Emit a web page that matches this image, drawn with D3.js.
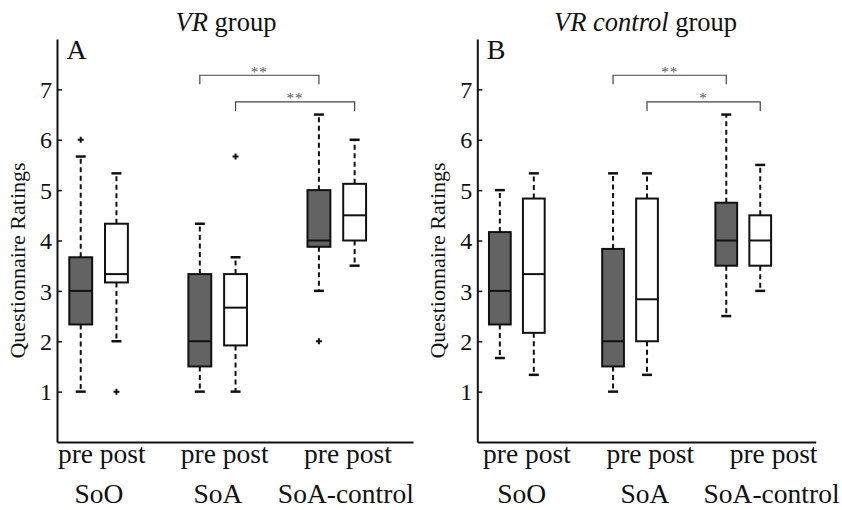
<!DOCTYPE html>
<html><head><meta charset="utf-8">
<script src="https://cdn.jsdelivr.net/npm/d3@7"></script>
<style>
body{margin:0;background:#fff}
svg{display:block}
svg text{font-family:"Liberation Serif","Tinos","DejaVu Serif","Noto Serif",serif !important;fill:#111}
</style>
</head><body>
<svg id="c" width="842" height="510"></svg>
<script>
// ---------- data ----------
const categories = ["SoO", "SoA", "SoA-control"];
const sessions = ["pre", "post"];
const yTicks = [1, 2, 3, 4, 5, 6, 7];
// box order: SoO pre, SoO post, SoA pre, SoA post, SoA-control pre, SoA-control post
// VR group (A)
const vrLower  = [1.000, 2.000, 1.000, 1.000, 3.000, 3.500];
const vrQ1     = [2.333, 3.167, 1.500, 1.917, 3.875, 4.000];
const vrMedian = [3.000, 3.333, 2.000, 2.667, 4.000, 4.500];
const vrQ3     = [3.667, 4.333, 3.333, 3.333, 5.000, 5.125];
const vrUpper  = [5.667, 5.333, 4.333, 3.667, 6.500, 6.000];
const vrOutliers = [[6.0], [1.0], [], [5.667], [2.0], []];
const vrSig = [{from: 2, to: 4, label: "**", level: 7.28}, {from: 3, to: 5, label: "**", level: 6.75}];
// VR control group (B)
const ctlLower  = [1.667, 1.333, 1.000, 1.333, 2.500, 3.000];
const ctlQ1     = [2.333, 2.167, 1.500, 2.000, 3.500, 3.500];
const ctlMedian = [3.000, 3.333, 2.000, 2.833, 4.000, 4.000];
const ctlQ3     = [4.167, 4.833, 3.833, 4.833, 4.750, 4.500];
const ctlUpper  = [5.000, 5.333, 5.333, 5.333, 6.500, 5.500];
const ctlOutliers = [[], [], [], [], [], []];
const ctlSig = [{from: 2, to: 4, label: "**", level: 7.28}, {from: 3, to: 5, label: "*", level: 6.75}];

// ---------- layout ----------
const svg = d3.select("#c");
const panels = [
  {left: 57, right: 413, letter: "A", italic: "VR", rest: " group", titleX: 226,
   lower: vrLower, q1: vrQ1, med: vrMedian, q3: vrQ3, upper: vrUpper, out: vrOutliers, sig: vrSig,
   ppUnits: [1.59, 5.03, 8.48], catUnits: [1.51, 4.84, 8.42], ylabX: 25},
  {left: 477.3, right: 815.7, letter: "B", italic: "VR control", rest: " group", titleX: 645.6,
   lower: ctlLower, q1: ctlQ1, med: ctlMedian, q3: ctlQ3, upper: ctlUpper, out: ctlOutliers, sig: ctlSig,
   ppUnits: [1.80, 5.43, 9.06], catUnits: [1.64, 5.27, 9.00], ylabX: 445}
];
const yTop = 39, yBottom = 442;
const boxW = 0.64, capW = 10;
const fillPre = "#636363";

panels.forEach(p => {
  const x = d3.scaleLinear().domain([0.336, 10.3]).range([p.left, p.right]);
  const y = d3.scaleLinear().domain([0, 8]).range([yBottom, yTop]);
  const g = svg.append("g");
  const pos = i => 1 + Math.floor(i / 2) * 10 / 3 + (i % 2);

  // axes
  const ya = g.append("g").attr("transform", `translate(${p.left},0)`)
    .call(d3.axisLeft(y).tickValues(yTicks).tickSize(-5).tickSizeOuter(0).tickPadding(5));
  ya.attr("font-family", null);
  ya.select(".domain").attr("stroke", "#111").attr("stroke-width", 2);
  ya.selectAll(".tick line").attr("stroke", "#111").attr("stroke-width", 1.5);
  ya.selectAll(".tick text").style("font-size", "24px").attr("fill", "#111").attr("dy", "0.34em");
  const xa = g.append("g").attr("transform", `translate(0,${yBottom})`)
    .call(d3.axisBottom(x).tickValues([]).tickSizeOuter(0));
  xa.select(".domain").attr("stroke", "#111").attr("stroke-width", 2);

  // y label
  g.append("text").attr("transform", `translate(${p.ylabX},${(yTop + yBottom) / 2 + 20}) rotate(-90)`)
    .attr("text-anchor", "middle").style("font-size", "22px").text("Questionnaire Ratings");

  // title
  const t = g.append("text").attr("x", p.titleX).attr("y", 31).attr("text-anchor", "middle").style("font-size", "26.5px");
  t.append("tspan").style("font-style", "italic").text(p.italic);
  t.append("tspan").text(p.rest);

  // panel letter
  g.append("text").attr("x", p.left + 9.5).attr("y", 58.5).style("font-size", "28px").text(p.letter);

  // x labels
  categories.forEach((c, k) => {
    g.append("text").attr("x", x(p.ppUnits[k])).attr("y", 463).attr("text-anchor", "middle")
      .style("font-size", "27.5px").text(sessions.join(" "));
    g.append("text").attr("x", x(p.catUnits[k])).attr("y", 503).attr("text-anchor", "middle")
      .style("font-size", "27.5px").text(c);
  });

  // boxes
  p.med.forEach((m, i) => {
    const cx = x(pos(i));
    const hw = (x(pos(i) + boxW / 2) - x(pos(i) - boxW / 2)) / 2;
    [[p.q3[i], p.upper[i]], [p.q1[i], p.lower[i]]].forEach(([a, b]) => {
      g.append("line").attr("x1", cx).attr("x2", cx).attr("y1", y(a)).attr("y2", y(b))
        .attr("stroke", "#111").attr("stroke-width", 2).attr("stroke-dasharray", "5,3.5");
      g.append("line").attr("x1", cx - capW / 2).attr("x2", cx + capW / 2).attr("y1", y(b)).attr("y2", y(b))
        .attr("stroke", "#111").attr("stroke-width", 2.5);
    });
    g.append("rect").attr("x", cx - hw).attr("y", y(p.q3[i])).attr("width", 2 * hw)
      .attr("height", y(p.q1[i]) - y(p.q3[i]))
      .attr("fill", i % 2 === 0 ? fillPre : "#fff").attr("stroke", "#111").attr("stroke-width", 2);
    g.append("line").attr("x1", cx - hw).attr("x2", cx + hw).attr("y1", y(m)).attr("y2", y(m))
      .attr("stroke", "#111").attr("stroke-width", 2);
    p.out[i].forEach(o => {
      g.append("path").attr("d", `M${cx - 3},${y(o)}H${cx + 3}M${cx},${y(o) - 3}V${y(o) + 3}`)
        .attr("stroke", "#111").attr("stroke-width", 2).attr("fill", "none");
    });
  });

  // significance brackets
  p.sig.forEach(s => {
    const x1 = x(pos(s.from)), x2 = x(pos(s.to)), yy = y(s.level);
    g.append("path").attr("d", `M${x1},${yy + 9}V${yy}H${x2}V${yy + 9}`)
      .attr("fill", "none").attr("stroke", "#444").attr("stroke-width", 1.2);
    g.append("text").attr("x", (x1 + x2) / 2).attr("y", yy + 1.5).attr("text-anchor", "middle")
      .style("font-size", "15px").style("letter-spacing", "1px").style("fill", "#555").text(s.label);
  });
});
</script>
</body></html>
